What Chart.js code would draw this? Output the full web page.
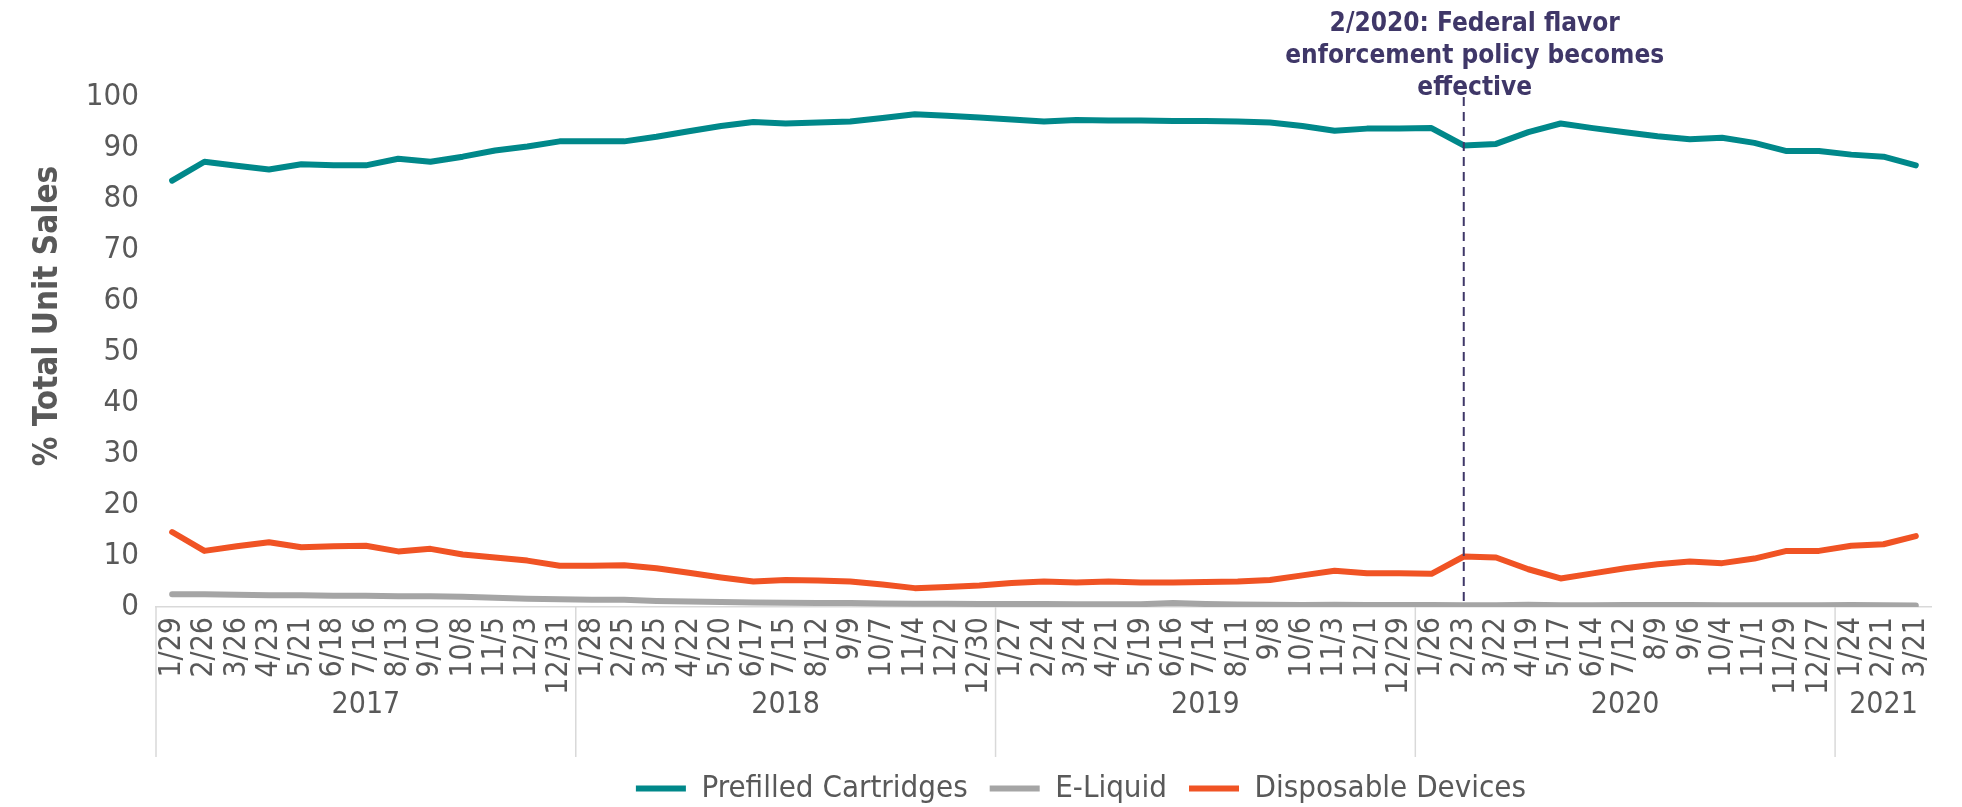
<!DOCTYPE html>
<html>
<head>
<meta charset="utf-8">
<title>% Total Unit Sales</title>
<script src="https://cdn.jsdelivr.net/npm/chart.js@4/dist/chart.umd.min.js"></script>
<style>
    html, body { margin: 0; padding: 0; background: #fff; }
</style>
</head>
<body>
<canvas id="salesChart" width="1962" height="807"></canvas>
<script>
// week-ending dates, grouped by year
const weekLabels = [
    "1/29", "2/26", "3/26", "4/23", "5/21", "6/18", "7/16", "8/13", "9/10", "10/8", "11/5", "12/3", "12/31",
    "1/28", "2/25", "3/25", "4/22", "5/20", "6/17", "7/15", "8/12", "9/9", "10/7", "11/4", "12/2", "12/30",
    "1/27", "2/24", "3/24", "4/21", "5/19", "6/16", "7/14", "8/11", "9/8", "10/6", "11/3", "12/1", "12/29",
    "1/26", "2/23", "3/22", "4/19", "5/17", "6/14", "7/12", "8/9", "9/6", "10/4", "11/1", "11/29", "12/27",
    "1/24", "2/21", "3/21"
];
const yearLabels = ["2017", "2018", "2019", "2020", "2021"];
const weeksPerYear = [13, 13, 13, 13, 3];

const prefilledCartridges = [
    83.6, 87.3, 86.5, 85.8, 86.8, 86.6, 86.6, 87.9, 87.3, 88.3,
    89.5, 90.3, 91.3, 91.3, 91.3, 92.2, 93.3, 94.3, 95.1, 94.8,
    95.0, 95.2, 95.9, 96.6, 96.3, 96.0, 95.6, 95.2, 95.5, 95.4,
    95.4, 95.3, 95.3, 95.2, 95.0, 94.3, 93.4, 93.8, 93.8, 93.9,
    90.5, 90.8, 93.1, 94.8, 93.9, 93.1, 92.3, 91.7, 92.0, 91.0,
    89.4, 89.4, 88.7, 88.3, 86.6
];
const eLiquid = [
    2.5, 2.5, 2.4, 2.3, 2.3, 2.2, 2.2, 2.1, 2.1, 2.0,
    1.8, 1.6, 1.5, 1.4, 1.4, 1.2, 1.1, 1.0, 0.9, 0.85,
    0.8, 0.8, 0.7, 0.65, 0.65, 0.6, 0.6, 0.6, 0.55, 0.55,
    0.55, 0.8, 0.6, 0.5, 0.45, 0.4, 0.45, 0.4, 0.4, 0.4,
    0.35, 0.35, 0.45, 0.35, 0.35, 0.4, 0.4, 0.4, 0.35, 0.35,
    0.35, 0.35, 0.4, 0.35, 0.3
];
const disposableDevices = [
    14.7, 11.0, 11.9, 12.7, 11.7, 11.9, 12.0, 10.9, 11.4, 10.3,
    9.7, 9.1, 8.1, 8.1, 8.2, 7.6, 6.7, 5.8, 5.0, 5.3,
    5.2, 5.0, 4.4, 3.7, 3.9, 4.2, 4.7, 5.0, 4.8, 5.0,
    4.8, 4.8, 4.9, 5.0, 5.3, 6.2, 7.1, 6.6, 6.6, 6.5,
    9.9, 9.7, 7.4, 5.6, 6.6, 7.6, 8.4, 8.9, 8.6, 9.5,
    11.0, 11.0, 12.0, 12.3, 13.9
];

const yAxisTitle = "% Total Unit Sales";
const policyIndex = 40; // 2/23/2020
const policyNote = ["2/2020: Federal flavor", "enforcement policy becomes", "effective"];

const FONT = "'DejaVu Sans Condensed', 'Liberation Sans', sans-serif";
const TEXT_GREY = "#595959";
const NOTE_COLOR = "#3f3768";

// year row under the week labels
const yearAxis = {
    id: "yearAxis",
    afterDraw(chart) {
        const ctx = chart.ctx;
        const x = chart.scales.x;
        const step = x.getPixelForValue(1) - x.getPixelForValue(0);
        const top = chart.chartArea.bottom;
        let start = 0;
        ctx.save();
        ctx.strokeStyle = "#d9d9d9";
        ctx.lineWidth = 1.5;
        ctx.fillStyle = TEXT_GREY;
        ctx.font = "30px " + FONT;
        ctx.textAlign = "center";
        ctx.textBaseline = "middle";
        yearLabels.forEach((year, k) => {
            const left = x.getPixelForValue(start) - step / 2;
            const right = x.getPixelForValue(start + weeksPerYear[k] - 1) + step / 2;
            ctx.beginPath();
            ctx.moveTo(left, top);
            ctx.lineTo(left, top + 150);
            ctx.stroke();
            ctx.fillText(year, (left + right) / 2, top + 98);
            start += weeksPerYear[k];
        });
        ctx.restore();
    }
};

// dashed marker + note for the enforcement policy
const policyMarker = {
    id: "policyMarker",
    afterDatasetsDraw(chart) {
        const ctx = chart.ctx;
        const px = chart.scales.x.getPixelForValue(policyIndex);
        const area = chart.chartArea;
        ctx.save();
        ctx.strokeStyle = NOTE_COLOR;
        ctx.lineWidth = 2;
        ctx.setLineDash([9, 6]);
        ctx.beginPath();
        ctx.moveTo(px, area.top);
        ctx.lineTo(px, area.bottom);
        ctx.stroke();
        ctx.setLineDash([]);
        ctx.fillStyle = NOTE_COLOR;
        ctx.font = "bold 26px " + FONT;
        ctx.textAlign = "center";
        ctx.textBaseline = "middle";
        policyNote.forEach((line, i) => {
            ctx.fillText(line, px + 11, 24 + i * 32);
        });
        ctx.restore();
    }
};

const yTitle = {
    id: "yTitle",
    afterDraw(chart) {
        const ctx = chart.ctx;
        ctx.save();
        ctx.translate(48, 316);
        ctx.rotate(-Math.PI / 2);
        ctx.fillStyle = TEXT_GREY;
        ctx.font = "bold 33px " + FONT;
        ctx.textAlign = "center";
        ctx.textBaseline = "middle";
        ctx.fillText(yAxisTitle, 0, 0);
        ctx.restore();
    }
};

// legend sits a little right of the plot centre in the original
const legendNudge = {
    id: "legendNudge",
    afterLayout(chart) {
        chart.legend.left += 37;
        chart.legend.right += 37;
    }
};

function plotSalesChart() {
    const ctx = document.getElementById("salesChart").getContext("2d");

    new Chart(ctx, {
        type: "line",
        data: {
            labels: weekLabels,
            datasets: [
                {
                    label: "Prefilled Cartridges",
                    data: prefilledCartridges,
                    borderColor: "#00888a",
                    backgroundColor: "#00888a",
                    borderWidth: 6,
                },
                {
                    label: "E-Liquid",
                    data: eLiquid,
                    borderColor: "#a5a5a5",
                    backgroundColor: "#a5a5a5",
                    borderWidth: 6,
                },
                {
                    label: "Disposable Devices",
                    data: disposableDevices,
                    borderColor: "#f05324",
                    backgroundColor: "#f05324",
                    borderWidth: 6,
                },
            ],
        },
        options: {
            responsive: false,
            animation: false,
            layout: { padding: { top: 97, right: 20, left: 0, bottom: -7 } },
            elements: {
                line: { tension: 0, borderCapStyle: "round", borderJoinStyle: "round", fill: false },
                point: { radius: 0, hoverRadius: 0 }
            },
            scales: {
                x: {
                    offset: true,
                    grid: { display: false, drawTicks: false },
                    border: { display: true, color: "#d9d9d9", width: 1.5 },
                    ticks: {
                        autoSkip: false,
                        minRotation: 90,
                        maxRotation: 90,
                        padding: 10,
                        color: TEXT_GREY,
                        font: { size: 30, family: FONT }
                    },
                    afterFit: (scale) => { scale.height = 144; }
                },
                y: {
                    min: 0,
                    max: 100,
                    grid: { display: false, drawTicks: false },
                    border: { display: false },
                    ticks: {
                        stepSize: 10,
                        padding: 17,
                        color: TEXT_GREY,
                        font: { size: 31, family: FONT }
                    },
                    afterFit: (scale) => { scale.width = 156; }
                }
            },
            plugins: {
                legend: {
                    position: "bottom",
                    fullSize: false,
                    labels: {
                        usePointStyle: true,
                        pointStyle: "line",
                        pointStyleWidth: 50,
                        padding: 22,
                        color: TEXT_GREY,
                        font: { size: 31, family: FONT }
                    }
                },
                tooltip: { enabled: false }
            }
        },
        plugins: [yearAxis, policyMarker, yTitle, legendNudge]
    });
}

plotSalesChart();
</script>
</body>
</html>
